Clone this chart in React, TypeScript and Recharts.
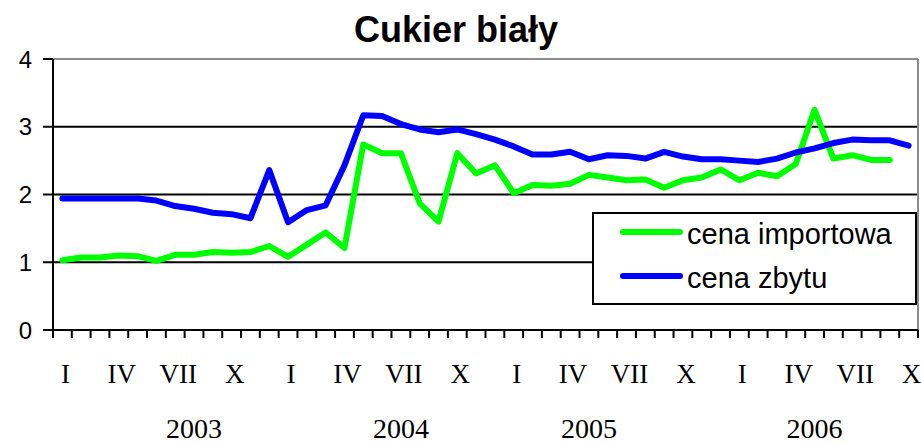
import React from 'react'
import { LineChart, Line, XAxis, YAxis, CartesianGrid, ReferenceLine } from 'recharts'

// Months Jan 2003 .. Oct 2006, roman numerals as on the original chart
const ROMAN = ['I', 'II', 'III', 'IV', 'V', 'VI', 'VII', 'VIII', 'IX', 'X', 'XI', 'XII']
const YEARS = ['2003', '2004', '2005', '2006']
// category index under which each year label sits
const YEAR_POS = [7, 18, 28, 40]

const cenaImportowa = [
  1.03, 1.07, 1.07, 1.10, 1.09, 1.02, 1.11, 1.11, 1.15, 1.14,
  1.15, 1.24, 1.08, 1.26, 1.44, 1.21, 2.74, 2.61, 2.61, 1.87,
  1.60, 2.61, 2.31, 2.43, 2.02, 2.14, 2.13, 2.16, 2.29, 2.25,
  2.21, 2.22, 2.10, 2.21, 2.25, 2.37, 2.21, 2.32, 2.27, 2.45,
  3.25, 2.53, 2.58, 2.51, 2.51, null,
]

const cenaZbytu = [
  1.94, 1.94, 1.94, 1.94, 1.94, 1.91, 1.83, 1.79, 1.73, 1.71,
  1.65, 2.36, 1.59, 1.77, 1.84, 2.43, 3.17, 3.16, 3.04, 2.96,
  2.92, 2.96, 2.89, 2.81, 2.71, 2.59, 2.59, 2.63, 2.52, 2.58,
  2.57, 2.53, 2.63, 2.56, 2.52, 2.52, 2.50, 2.48, 2.53, 2.62,
  2.68, 2.76, 2.81, 2.80, 2.80, 2.72,
]

const N = cenaZbytu.length
const data = cenaZbytu.map((v, i) => ({
  pos: i + 0.5,
  month: ROMAN[i % 12],
  importowa: cenaImportowa[i],
  zbytu: v,
}))

const W = 921
const H = 444
const LEFT = 53
const RIGHT = 3
const HALF = (W - LEFT - RIGHT) / N / 2

const serif = '"Liberation Serif", "Times New Roman", serif'
const sans = '"Liberation Sans", Arial, sans-serif'

const MonthTick = ({ x, y, payload }: any) => {
  const j = payload.value
  if (j >= N) return <g />
  const yi = YEAR_POS.indexOf(j)
  return (
    <g>
      {j % 3 === 0 && (
        <text x={x + HALF + 3} y={y + 45} textAnchor="middle" fontFamily={serif} fontSize={27} fill="#000">
          {data[j].month}
        </text>
      )}
      {yi >= 0 && (
        <text x={x + HALF} y={y + 100} textAnchor="middle" fontFamily={serif} fontSize={28} fill="#000">
          {YEARS[yi]}
        </text>
      )}
    </g>
  )
}

// legend drawn as an overlay so it doesn't eat into the plot area
const LegendBox = () => (
  <svg width={325} height={93} style={{ position: 'absolute', left: 592, top: 212 }}>
    <rect x={1} y={1} width={323} height={91} fill="#fff" stroke="#000" strokeWidth={2} />
    <line x1={31} y1={20} x2={88} y2={20} stroke="#00ff00" strokeWidth={6} strokeLinecap="round" />
    <text x={95} y={32} fontFamily={sans} fontSize={29} fill="#000">cena importowa</text>
    <line x1={31} y1={64} x2={88} y2={64} stroke="#0000ff" strokeWidth={6} strokeLinecap="round" />
    <text x={95} y={76} fontFamily={sans} fontSize={29} fill="#000">cena zbytu</text>
  </svg>
)

export default function App() {
  const xTicks = Array.from({ length: N + 1 }, (_, i) => i)
  return (
    <div style={{ position: 'absolute', left: 0, top: 0, width: W, height: H, background: '#fff' }}>
      <div
        style={{
          position: 'absolute', left: 0, top: 12, width: 912, textAlign: 'center',
          fontFamily: sans, fontWeight: 'bold', fontSize: 36, lineHeight: '36px', color: '#000',
        }}
      >
        Cukier biały
      </div>
      <LineChart width={W} height={H} data={data} margin={{ top: 59, right: RIGHT, bottom: 0, left: 0 }}>
        <CartesianGrid horizontal vertical={false} horizontalValues={[1, 2, 3]} stroke="#000" strokeWidth={2} />
        <ReferenceLine y={4} stroke="#8c8c8c" strokeWidth={2} />
        <ReferenceLine x={N} stroke="#8c8c8c" strokeWidth={2} />
        <XAxis
          dataKey="pos"
          type="number"
          domain={[0, N]}
          ticks={xTicks}
          interval={0}
          height={114}
          tickSize={8}
          tickMargin={0}
          axisLine={{ stroke: '#000', strokeWidth: 2 }}
          tickLine={{ stroke: '#000', strokeWidth: 2 }}
          tick={<MonthTick />}
        />
        <YAxis
          domain={[0, 4]}
          ticks={[0, 1, 2, 3, 4]}
          width={LEFT}
          tickSize={10}
          tickMargin={11}
          axisLine={{ stroke: '#000', strokeWidth: 2 }}
          tickLine={{ stroke: '#000', strokeWidth: 2 }}
          tick={{ fill: '#000', fontFamily: sans, fontSize: 24 }}
        />
        <Line
          dataKey="importowa"
          stroke="#00ff00"
          strokeWidth={6}
          dot={false}
          strokeLinejoin="round"
          strokeLinecap="round"
          isAnimationActive={false}
        />
        <Line
          dataKey="zbytu"
          stroke="#0000ff"
          strokeWidth={6}
          dot={false}
          strokeLinejoin="round"
          strokeLinecap="round"
          isAnimationActive={false}
        />
      </LineChart>
      <LegendBox />
    </div>
  )
}
